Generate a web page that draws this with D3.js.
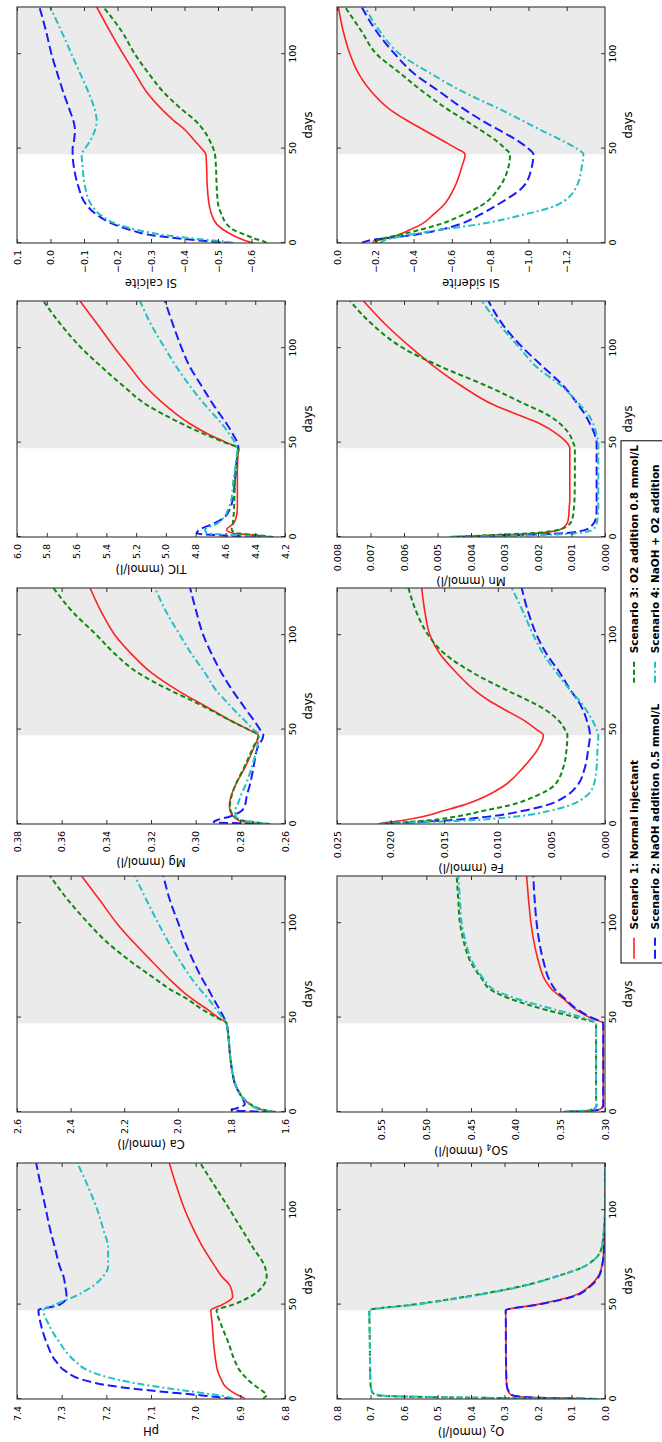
<!DOCTYPE html>
<html>
<head>
<meta charset="utf-8">
<script src="https://cdn.jsdelivr.net/npm/d3@7"></script>
<style>
  body { margin: 0; background: #fff; }
  text { font-family: "DejaVu Sans", sans-serif; }
</style>
</head>
<body>
<div id="fig"></div>
<script>
// page is the original figure turned a quarter turn counter-clockwise
const PAGE_W = 662, PAGE_H = 1442;

const days = [0, 1, 2, 4, 7, 10, 15, 20, 30, 40, 47, 50, 54, 60, 65, 70, 80, 90, 100, 112, 125];
const shadeStart = 47;
const scenarios = ["Scenario 1: Normal injectant", "Scenario 2: NaOH addition 0.5 mmol/L",
                   "Scenario 3: O2 addition 0.8 mmol/L", "Scenario 4: NaOH + O2 addition"];

// each panel: [S1, S2, S3, S4]
const pH = [
  [6.89, 6.895, 6.905, 6.92, 6.935, 6.942, 6.951, 6.955, 6.96, 6.963, 6.966, 6.94, 6.917, 6.923, 6.942, 6.956, 6.983, 7.005, 7.024, 7.042, 7.059],
  [6.916, 6.95, 6.99, 7.08, 7.19, 7.25, 7.293, 7.313, 7.334, 7.347, 7.352, 7.304, 7.289, 7.292, 7.296, 7.304, 7.315, 7.326, 7.335, 7.346, 7.357],
  [6.849, 6.845, 6.841, 6.849, 6.867, 6.882, 6.901, 6.912, 6.927, 6.944, 6.953, 6.916, 6.879, 6.849, 6.841, 6.845, 6.871, 6.897, 6.923, 6.955, 6.99],
  [6.916, 6.925, 6.95, 7.01, 7.1, 7.17, 7.24, 7.27, 7.305, 7.33, 7.341, 7.315, 7.274, 7.229, 7.207, 7.196, 7.196, 7.207, 7.22, 7.24, 7.265]
];
const ca = [
  [1.643, 1.68, 1.706, 1.73, 1.755, 1.77, 1.787, 1.795, 1.805, 1.811, 1.818, 1.849, 1.886, 1.948, 1.991, 2.029, 2.098, 2.166, 2.228, 2.29, 2.359],
  [1.65, 1.80, 1.78, 1.75, 1.758, 1.77, 1.787, 1.795, 1.805, 1.811, 1.818, 1.828, 1.843, 1.867, 1.886, 1.907, 1.942, 1.973, 1.998, 2.029, 2.054],
  [1.635, 1.675, 1.70, 1.728, 1.753, 1.769, 1.786, 1.795, 1.805, 1.811, 1.818, 1.855, 1.905, 1.967, 2.029, 2.079, 2.178, 2.265, 2.334, 2.408, 2.477],
  [1.643, 1.68, 1.706, 1.73, 1.755, 1.77, 1.787, 1.795, 1.805, 1.811, 1.818, 1.833, 1.855, 1.886, 1.917, 1.945, 1.992, 2.035, 2.073, 2.116, 2.16]
];
const mg = [
  [0.2712, 0.2771, 0.2809, 0.2831, 0.2846, 0.2849, 0.2841, 0.2824, 0.2779, 0.2741, 0.2719, 0.2764, 0.2831, 0.2921, 0.2996, 0.307, 0.3197, 0.3287, 0.3361, 0.3421, 0.3473],
  [0.268, 0.292, 0.2906, 0.2846, 0.2794, 0.2779, 0.2771, 0.2759, 0.2741, 0.2724, 0.2697, 0.2712, 0.2734, 0.2771, 0.2801, 0.2831, 0.2884, 0.2928, 0.2966, 0.2996, 0.3025],
  [0.2667, 0.2742, 0.2794, 0.2824, 0.2843, 0.2846, 0.2839, 0.2824, 0.2783, 0.2745, 0.2719, 0.2764, 0.2831, 0.2928, 0.301, 0.31, 0.3257, 0.3361, 0.3443, 0.3548, 0.3637],
  [0.2682, 0.2742, 0.28, 0.282, 0.2824, 0.2813, 0.2798, 0.2779, 0.2749, 0.2727, 0.2715, 0.2741, 0.2774, 0.2824, 0.2864, 0.2903, 0.2958, 0.3018, 0.307, 0.313, 0.3182]
];
const tic = [
  [4.30, 4.412, 4.547, 4.592, 4.547, 4.529, 4.52, 4.52, 4.52, 4.518, 4.513, 4.592, 4.704, 4.838, 4.928, 5.006, 5.14, 5.241, 5.342, 5.454, 5.577],
  [4.32, 4.659, 4.793, 4.771, 4.681, 4.614, 4.569, 4.551, 4.536, 4.525, 4.513, 4.52, 4.547, 4.592, 4.637, 4.681, 4.76, 4.838, 4.894, 4.95, 5.006],
  [4.278, 4.39, 4.525, 4.558, 4.551, 4.547, 4.542, 4.54, 4.536, 4.525, 4.513, 4.603, 4.726, 4.894, 5.017, 5.129, 5.286, 5.431, 5.566, 5.70, 5.823],
  [4.32, 4.547, 4.726, 4.737, 4.659, 4.614, 4.58, 4.56, 4.547, 4.529, 4.52, 4.536, 4.569, 4.625, 4.681, 4.737, 4.838, 4.928, 5.006, 5.096, 5.174]
];
const siCalcite = [
  [-0.605, -0.585, -0.571, -0.546, -0.516, -0.496, -0.481, -0.474, -0.468, -0.466, -0.464, -0.451, -0.431, -0.401, -0.367, -0.337, -0.287, -0.252, -0.217, -0.178, -0.138],
  [-0.546, -0.466, -0.406, -0.307, -0.237, -0.188, -0.138, -0.108, -0.083, -0.07, -0.066, -0.066, -0.07, -0.073, -0.068, -0.058, -0.038, -0.02, -0.003, 0.013, 0.033],
  [-0.645, -0.635, -0.615, -0.586, -0.546, -0.526, -0.511, -0.501, -0.496, -0.494, -0.491, -0.486, -0.476, -0.456, -0.431, -0.397, -0.337, -0.292, -0.252, -0.213, -0.158],
  [-0.546, -0.506, -0.446, -0.347, -0.257, -0.198, -0.148, -0.123, -0.103, -0.096, -0.093, -0.103, -0.118, -0.133, -0.138, -0.133, -0.113, -0.088, -0.063, -0.033, 0.001]
];
const o2 = [
  [0.02, 0.244, 0.2786, 0.2886, 0.2935, 0.2945, 0.295, 0.2955, 0.2958, 0.296, 0.2965, 0.204, 0.1045, 0.0448, 0.02, 0.01, 0.003, 0.0005, 0, 0, 0],
  [0.02, 0.24, 0.276, 0.287, 0.293, 0.294, 0.295, 0.2955, 0.296, 0.296, 0.2965, 0.2, 0.1, 0.042, 0.018, 0.009, 0.003, 0.0005, 0, 0, 0],
  [0.02, 0.5224, 0.6816, 0.6965, 0.6995, 0.7005, 0.701, 0.7015, 0.702, 0.703, 0.7035, 0.572, 0.4226, 0.2438, 0.1443, 0.0647, 0.01, 0.003, 0, 0, 0],
  [0.02, 0.50, 0.675, 0.695, 0.699, 0.70, 0.701, 0.7015, 0.702, 0.703, 0.7035, 0.565, 0.415, 0.24, 0.142, 0.064, 0.01, 0.003, 0, 0, 0]
];
const so4 = [
  [0.3466, 0.3093, 0.3037, 0.3019, 0.302, 0.302, 0.302, 0.302, 0.302, 0.302, 0.302, 0.3168, 0.3317, 0.3466, 0.3597, 0.3672, 0.3746, 0.3795, 0.3829, 0.3855, 0.3877],
  [0.3466, 0.3093, 0.3037, 0.3019, 0.302, 0.302, 0.302, 0.302, 0.302, 0.302, 0.302, 0.315, 0.33, 0.3448, 0.356, 0.3623, 0.369, 0.3735, 0.3765, 0.3787, 0.3803],
  [0.3466, 0.3168, 0.3112, 0.3093, 0.31, 0.31, 0.31, 0.31, 0.31, 0.31, 0.31, 0.3317, 0.3653, 0.4063, 0.4287, 0.437, 0.451, 0.458, 0.4623, 0.4642, 0.466],
  [0.3466, 0.3168, 0.3112, 0.3093, 0.31, 0.31, 0.31, 0.31, 0.31, 0.31, 0.31, 0.3243, 0.3541, 0.3989, 0.425, 0.435, 0.449, 0.456, 0.4604, 0.4623, 0.4642]
];
const fe = [
  [0.02114, 0.02006, 0.01881, 0.01695, 0.01508, 0.01322, 0.01104, 0.00948, 0.00762, 0.00622, 0.00575, 0.00637, 0.00731, 0.00917, 0.01073, 0.01197, 0.01384, 0.01539, 0.01632, 0.01679, 0.0171],
  [0.02114, 0.01757, 0.01446, 0.01073, 0.00762, 0.00544, 0.00358, 0.00264, 0.00187, 0.00156, 0.0014, 0.00146, 0.00165, 0.00202, 0.00249, 0.00311, 0.0042, 0.00544, 0.00637, 0.00715, 0.00777],
  [0.02114, 0.0185, 0.01633, 0.01384, 0.01135, 0.00886, 0.00637, 0.00482, 0.00389, 0.00358, 0.00351, 0.00373, 0.0042, 0.00544, 0.007, 0.00886, 0.01228, 0.01493, 0.01648, 0.01757, 0.01834],
  [0.02114, 0.01664, 0.0126, 0.00824, 0.00513, 0.00327, 0.00171, 0.00109, 0.00078, 0.0007, 0.00062, 0.00078, 0.00109, 0.00171, 0.00233, 0.00311, 0.0045, 0.00575, 0.00668, 0.00761, 0.0087]
];
const mn = [
  [0.00463, 0.00323, 0.00204, 0.00134, 0.00114, 0.00109, 0.00107, 0.00105, 0.00105, 0.00105, 0.00105, 0.00114, 0.00139, 0.00194, 0.00264, 0.00333, 0.00428, 0.00508, 0.00577, 0.00652, 0.00721],
  [0.00463, 0.00264, 0.00124, 0.00055, 0.00035, 0.00027, 0.00025, 0.00025, 0.00025, 0.00025, 0.00025, 0.00025, 0.0003, 0.00045, 0.0006, 0.0008, 0.00124, 0.00184, 0.00244, 0.00303, 0.00348],
  [0.00463, 0.00343, 0.00224, 0.00134, 0.00105, 0.00097, 0.00093, 0.00091, 0.0009, 0.0009, 0.0009, 0.00095, 0.00105, 0.00134, 0.00174, 0.00234, 0.00353, 0.00487, 0.00602, 0.00691, 0.00761],
  [0.00463, 0.00204, 0.00085, 0.00035, 0.00025, 0.00022, 0.0002, 0.0002, 0.0002, 0.0002, 0.0002, 0.0002, 0.00025, 0.00035, 0.0005, 0.00075, 0.0013, 0.00204, 0.00254, 0.00313, 0.00368]
];
const siSiderite = [
  [-0.19, -0.19, -0.242, -0.312, -0.381, -0.442, -0.503, -0.556, -0.616, -0.651, -0.669, -0.625, -0.556, -0.451, -0.364, -0.286, -0.181, -0.111, -0.068, -0.033, -0.007],
  [-0.129, -0.155, -0.207, -0.381, -0.538, -0.643, -0.747, -0.834, -0.974, -1.017, -1.026, -0.999, -0.947, -0.843, -0.756, -0.677, -0.538, -0.399, -0.303, -0.207, -0.129],
  [-0.207, -0.207, -0.225, -0.312, -0.434, -0.538, -0.66, -0.756, -0.851, -0.895, -0.904, -0.878, -0.834, -0.747, -0.669, -0.59, -0.451, -0.329, -0.207, -0.129, -0.042],
  [-0.225, -0.24, -0.268, -0.364, -0.538, -0.747, -0.974, -1.147, -1.252, -1.278, -1.287, -1.252, -1.182, -1.061, -0.965, -0.869, -0.66, -0.486, -0.329, -0.225, -0.146]
];

const dayTicks = [0, 50, 100];
const pHTicks = [6.8, 6.9, 7.0, 7.1, 7.2, 7.3, 7.4];
const caTicks = [1.6, 1.8, 2.0, 2.2, 2.4, 2.6];
const mgTicks = [0.26, 0.28, 0.30, 0.32, 0.34, 0.36, 0.38];
const ticTicks = [4.2, 4.4, 4.6, 4.8, 5.0, 5.2, 5.4, 5.6, 5.8, 6.0];
const siCalciteTicks = [-0.6, -0.5, -0.4, -0.3, -0.2, -0.1, 0.0, 0.1];
const o2Ticks = [0.0, 0.1, 0.2, 0.3, 0.4, 0.5, 0.6, 0.7, 0.8];
const so4Ticks = [0.30, 0.35, 0.40, 0.45, 0.50, 0.55];
const feTicks = [0.000, 0.005, 0.010, 0.015, 0.020, 0.025];
const mnTicks = [0.000, 0.001, 0.002, 0.003, 0.004, 0.005, 0.006, 0.007, 0.008];
const siSideriteTicks = [-1.2, -1.0, -0.8, -0.6, -0.4, -0.2, 0.0];

const panels = [
  { label: ["pH"], data: pH, domain: [6.8, 7.4], ticks: pHTicks, fmt: ".1f", row: 0, col: 0 },
  { label: ["Ca (mmol/l)"], data: ca, domain: [1.6, 2.6], ticks: caTicks, fmt: ".1f", row: 0, col: 1 },
  { label: ["Mg (mmol/l)"], data: mg, domain: [0.26, 0.38], ticks: mgTicks, fmt: ".2f", row: 0, col: 2 },
  { label: ["TIC (mmol/l)"], data: tic, domain: [4.2, 6.0], ticks: ticTicks, fmt: ".1f", row: 0, col: 3 },
  { label: ["SI calcite"], data: siCalcite, domain: [-0.7, 0.1], ticks: siCalciteTicks, fmt: ".1f", row: 0, col: 4 },
  { label: ["O", "2", " (mmol/l)"], data: o2, domain: [0, 0.8], ticks: o2Ticks, fmt: ".1f", row: 1, col: 0 },
  { label: ["SO", "4", " (mmol/l)"], data: so4, domain: [0.3, 0.6], ticks: so4Ticks, fmt: ".2f", row: 1, col: 1 },
  { label: ["Fe (mmol/l)"], data: fe, domain: [0, 0.025], ticks: feTicks, fmt: ".3f", row: 1, col: 2 },
  { label: ["Mn (mmol/l)"], data: mn, domain: [0, 0.008], ticks: mnTicks, fmt: ".3f", row: 1, col: 3 },
  { label: ["SI siderite"], data: siSiderite, domain: [-1.4, 0.0], ticks: siSideriteTicks, fmt: ".1f", row: 1, col: 4 }
];

// style
const colors = ["#ff2222", "#1a1aff", "#118811", "#22c0c0"];
const dashes = [null, "9,4", "5,3", "7,3,2,3"];
const widths = [1.6, 2, 2, 2];
const colLeft = [43, 330, 618, 905, 1199];
const rowTop = [17, 337];
const plotW = 236, plotH = 268;
const TICK_FS = 9.5, LABEL_FS = 11.5, LEG_FS = 10.5;

const svg = d3.select("#fig").append("svg")
    .attr("width", PAGE_W)
    .attr("height", PAGE_H);
svg.append("rect").attr("width", PAGE_W).attr("height", PAGE_H).attr("fill", "#fff");

// draw the figure in its own (landscape) frame, then turn it
const fig = svg.append("g")
    .attr("transform", "translate(0," + PAGE_H + ") rotate(-90)");

panels.forEach((p, i) => {
  const left = colLeft[p.col], top = rowTop[p.row];
  const x = d3.scaleLinear().domain([0, 125]).range([left, left + plotW]);
  const y = d3.scaleLinear().domain(p.domain).range([top + plotH, top]);
  const g = fig.append("g");

  g.append("clipPath").attr("id", "clip" + i)
    .append("rect").attr("x", left).attr("y", top).attr("width", plotW).attr("height", plotH);

  g.append("rect")
    .attr("x", x(shadeStart)).attr("y", top)
    .attr("width", x(125) - x(shadeStart)).attr("height", plotH)
    .attr("fill", "#ebebeb");

  const line = d3.line()
    .x((d, j) => x(days[j]))
    .y(d => y(d))
    .curve(d3.curveMonotoneX);

  p.data.forEach((s, k) => {
    g.append("path")
      .datum(s)
      .attr("clip-path", "url(#clip" + i + ")")
      .attr("d", line)
      .attr("fill", "none")
      .attr("stroke", colors[k])
      .attr("stroke-width", widths[k])
      .attr("stroke-dasharray", dashes[k]);
  });

  // axes with inward ticks on all four sides
  const fmt = d3.format(p.fmt);
  g.append("g").attr("transform", "translate(0," + (top + plotH) + ")")
    .call(d3.axisBottom(x).tickValues(dayTicks).tickSize(-4).tickPadding(4).tickFormat(d3.format("d")));
  g.append("g").attr("transform", "translate(0," + top + ")")
    .call(d3.axisTop(x).tickValues(dayTicks).tickSize(-4).tickFormat(""));
  const ay = g.append("g").attr("transform", "translate(" + left + ",0)")
    .call(d3.axisLeft(y).tickValues(p.ticks).tickSize(-4).tickPadding(7).tickFormat(fmt));
  g.append("g").attr("transform", "translate(" + (left + plotW) + ",0)")
    .call(d3.axisRight(y).tickValues(p.ticks).tickSize(-4).tickFormat(""));
  g.selectAll(".domain").remove();
  g.selectAll(".tick line").attr("stroke", "#000").attr("stroke-width", 0.8);
  g.selectAll(".tick text").attr("font-size", TICK_FS).attr("font-family", "DejaVu Sans").attr("fill", "#000");

  g.append("rect")
    .attr("x", left).attr("y", top).attr("width", plotW).attr("height", plotH)
    .attr("fill", "none").attr("stroke", "#333").attr("stroke-width", 1.1);

  g.append("text")
    .attr("x", left + plotW / 2).attr("y", top + plotH + 23)
    .attr("dy", "0.35em")
    .attr("text-anchor", "middle")
    .attr("font-size", LABEL_FS)
    .text("days");

  let maxW = 0;
  ay.selectAll(".tick text").each(function () { maxW = Math.max(maxW, this.getBBox().width); });
  const lx = left - 7 - maxW - 4 - 6;
  const lab = g.append("text")
    .attr("transform", "translate(" + lx + "," + (top + plotH / 2) + ") rotate(-90)")
    .attr("text-anchor", "middle")
    .attr("dy", "0.35em")
    .attr("font-size", LABEL_FS);
  if (p.label.length === 1) {
    lab.text(p.label[0]);
  } else {
    lab.append("tspan").text(p.label[0]);
    lab.append("tspan").attr("font-size", LABEL_FS * 0.7).attr("dy", "0.3em").text(p.label[1]);
    lab.append("tspan").attr("dy", "-0.3em").text(p.label[2]);
  }
});

// legend, two columns (matplotlib-like spacing in font units), over the bottom edge
const legX = 479, legY = 621;
const legRows = [634, 655];
const pad = 0.4 * LEG_FS, handleLen = 2 * LEG_FS, textPad = 0.8 * LEG_FS, colGap = 2 * LEG_FS;
const legend = fig.append("g");
const frame = legend.append("rect")
  .attr("x", legX).attr("y", legY).attr("height", 80)
  .attr("fill", "#fff").attr("stroke", "#000").attr("stroke-width", 1);

let colX = legX + pad;
[0, 1].forEach(c => {
  let colW = 0;
  [0, 1].forEach(r => {
    const k = c * 2 + r, cy = legRows[r];
    legend.append("line")
      .attr("x1", colX).attr("x2", colX + handleLen).attr("y1", cy).attr("y2", cy)
      .attr("stroke", colors[k]).attr("stroke-width", widths[k])
      .attr("stroke-dasharray", dashes[k]);
    const t = legend.append("text")
      .attr("x", colX + handleLen + textPad).attr("y", cy).attr("dy", "0.35em")
      .attr("font-size", LEG_FS).attr("font-weight", "bold")
      .text(scenarios[k]);
    colW = Math.max(colW, t.node().getComputedTextLength());
  });
  colX += handleLen + textPad + colW + colGap;
});
frame.attr("width", colX - colGap + pad - legX);
</script>
</body>
</html>
